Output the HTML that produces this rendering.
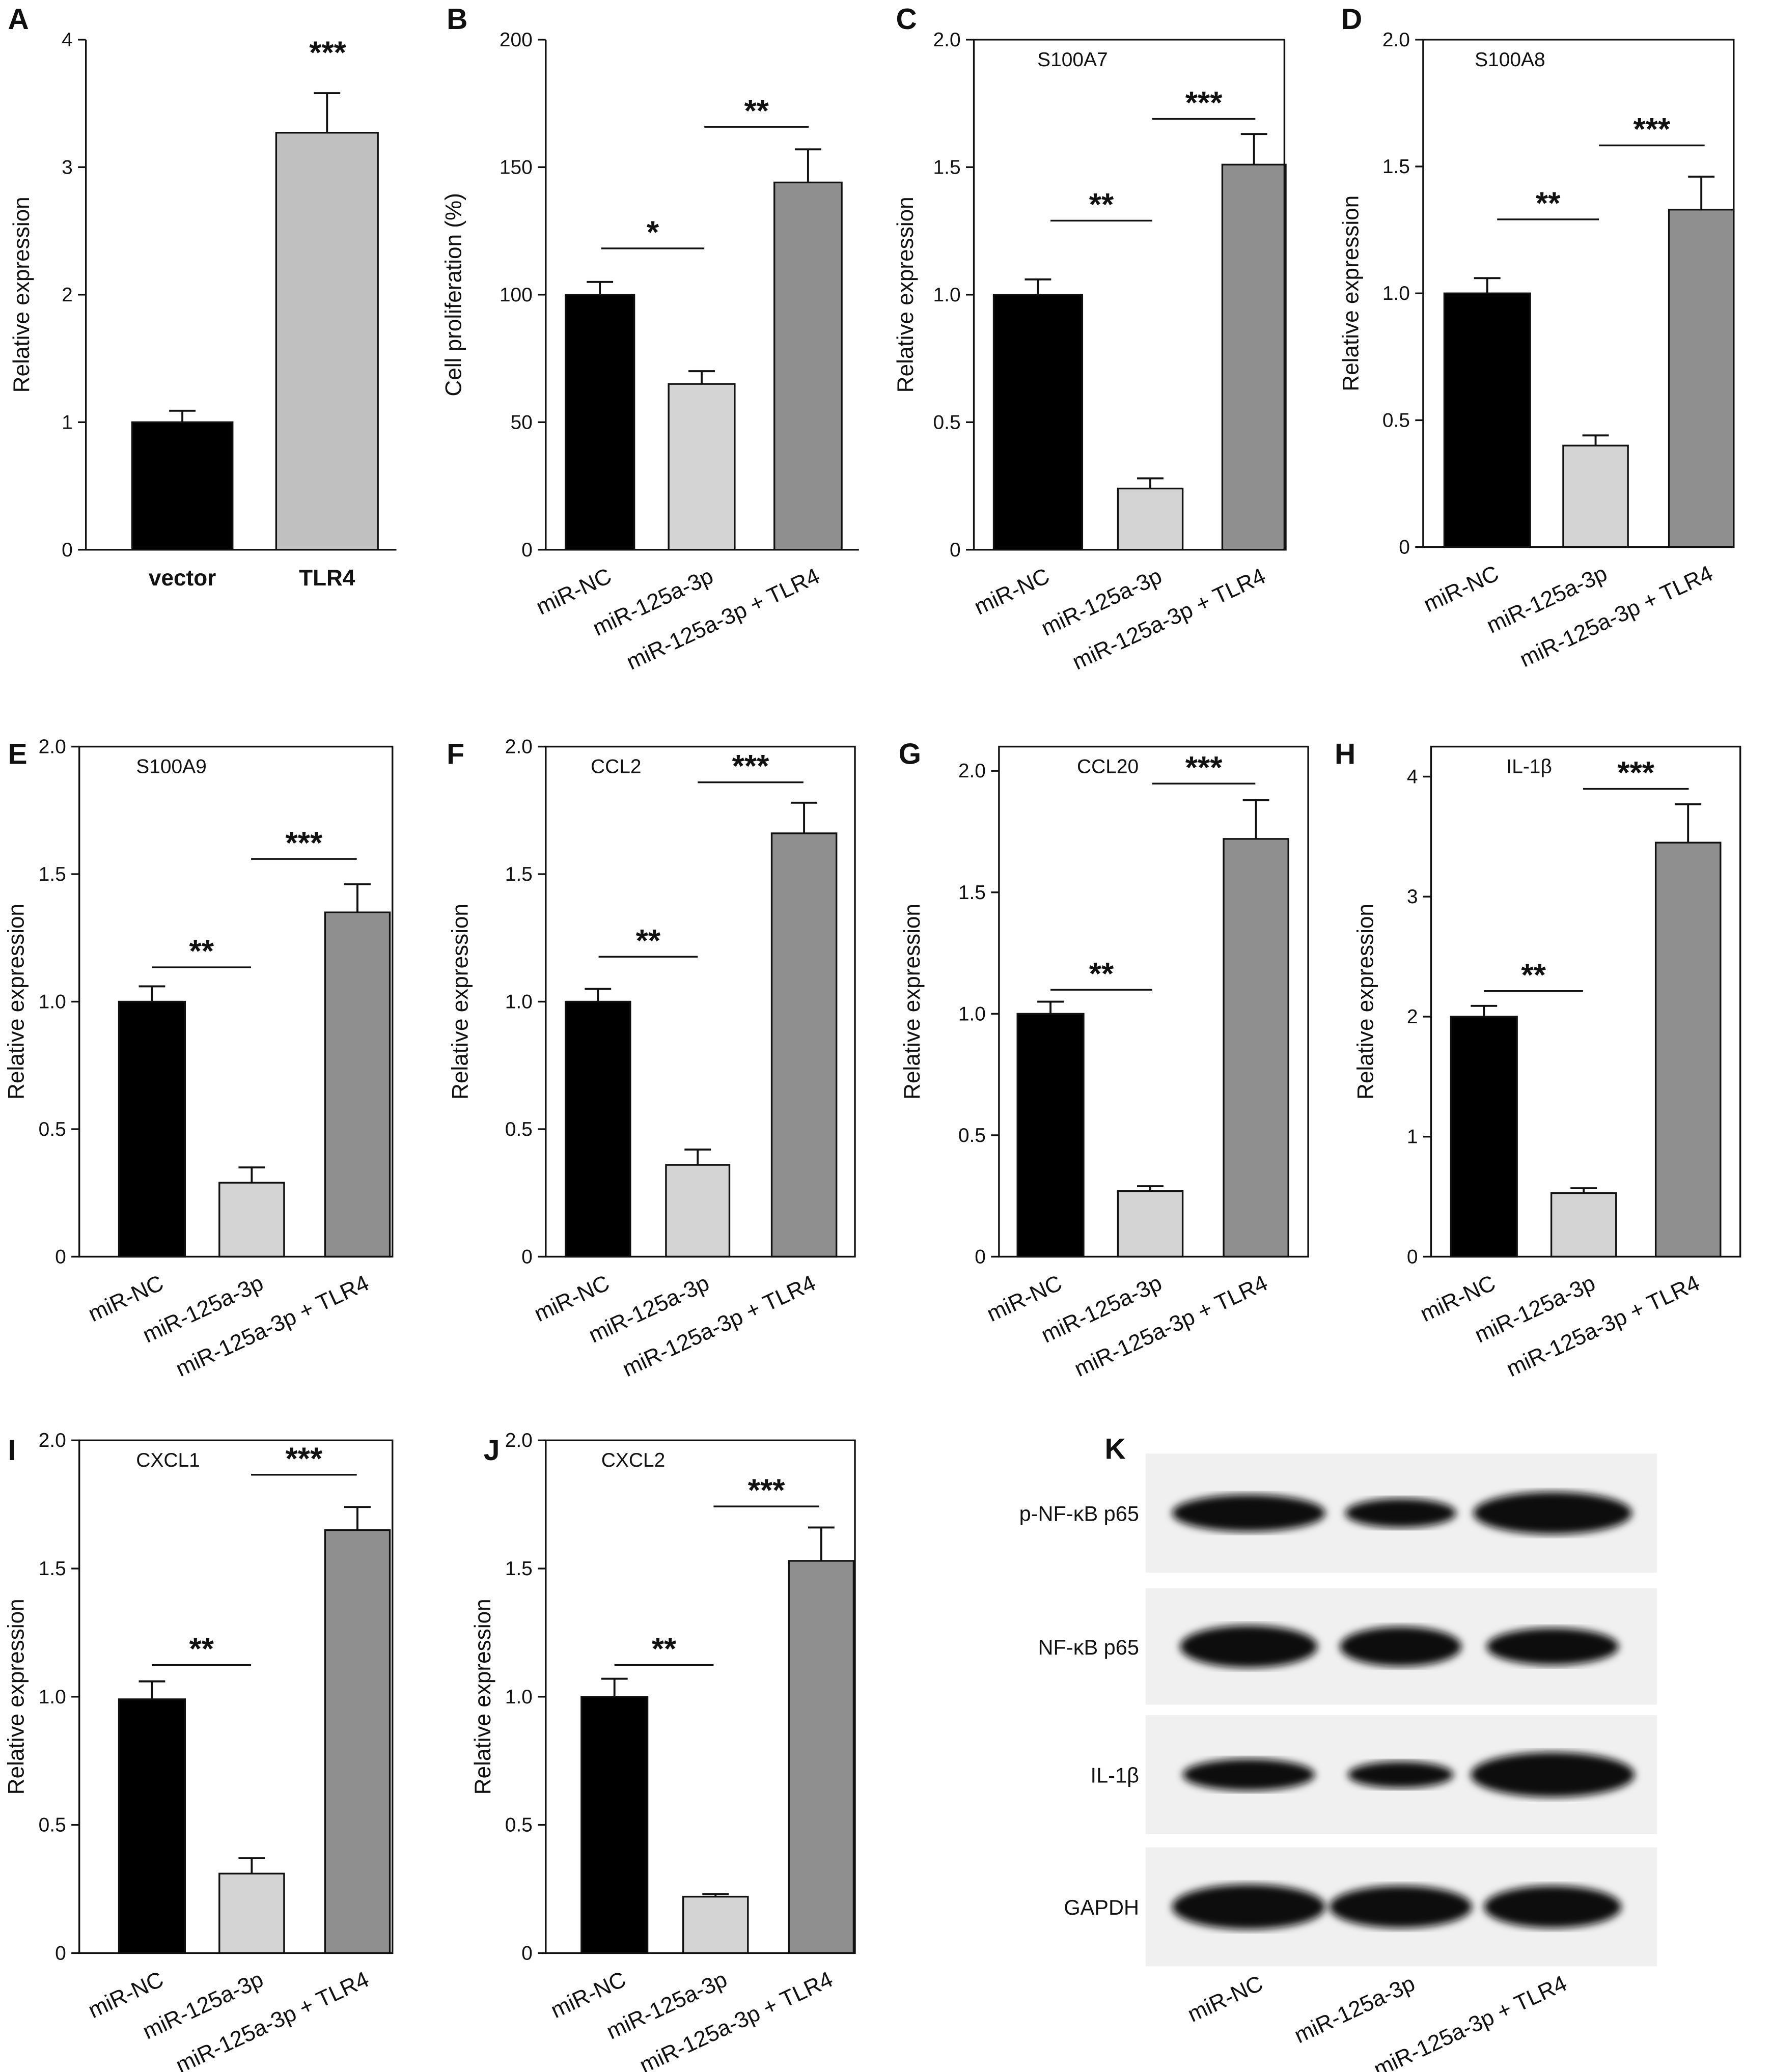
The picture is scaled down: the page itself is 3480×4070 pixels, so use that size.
<!DOCTYPE html>
<html><head><meta charset="utf-8">
<style>
html,body{margin:0;padding:0;background:#fff}
svg{display:block}
text{font-family:"Liberation Sans",sans-serif;fill:#111}
</style></head>
<body>
<svg id="fig" width="3480" height="4070" viewBox="0 0 1341 1568" preserveAspectRatio="none" xmlns="http://www.w3.org/2000/svg"></svg>
<script>
const groups3 = ["miR-NC","miR-125a-3p","miR-125a-3p + TLR4"];
const groupsA = ["vector","TLR4"];
const valsA = [1.0,3.27], errA = [1.09,3.58];
const valsB = [100,65,144], errB = [105,70,157];
const valsC = [1.0,0.24,1.51], errC = [1.06,0.28,1.63];
const valsD = [1.0,0.40,1.33], errD = [1.06,0.44,1.46];
const valsE = [1.0,0.29,1.35], errE = [1.06,0.35,1.46];
const valsF = [1.0,0.36,1.66], errF = [1.05,0.42,1.78];
const valsG = [1.0,0.27,1.72], errG = [1.05,0.29,1.88];
const valsH = [2.0,0.53,3.45], errH = [2.09,0.57,3.77];
const valsI = [0.99,0.31,1.65], errI = [1.06,0.37,1.74];
const valsJ = [1.0,0.22,1.53], errJ = [1.07,0.23,1.66];
const ticks2 = [0,0.5,1.0,1.5,2.0];
const ticksTick2Labels = ["0","0.5","1.0","1.5","2.0"];
const ticks4 = [0,1,2,3,4];
const ticksB = [0,50,100,150,200];

const NS="http://www.w3.org/2000/svg";
const svg=document.getElementById('fig');
function el(tag,attrs,parent){const e=document.createElementNS(NS,tag);for(const k in attrs)e.setAttribute(k,attrs[k]);(parent||svg).appendChild(e);return e;}
function txt(s,attrs,parent){const e=el('text',attrs,parent);e.textContent=s;return e;}

const colors3=["#000","#d4d4d4","#8f8f8f"];
const ANG=-25;

function panel(cfg){
  const g=el('g',{});
  
  
  const y=v=>cfg.y0-(v-cfg.min)/(cfg.max-cfg.min)*(cfg.y0-cfg.yTop);
  const L=txt(cfg.id,{x:cfg.lx,y:cfg.ly,'font-size':22,'font-weight':'bold'},g);
  
  
  cfg.vals.forEach((v,i)=>{
    const [x1,x2]=cfg.bars[i];
    const cx=(x1+x2)/2;
    const b=el('rect',{x:x1,y:y(v),width:x2-x1,height:cfg.y0-y(v),fill:cfg.colors[i],stroke:'#111','stroke-width':1.3},g);
    
    
    const ey=y(cfg.err[i]);
    const eb=el('path',{d:`M${cx} ${y(v)}V${ey}M${cx-10} ${ey}H${cx+10}`,stroke:'#111','stroke-width':1.5,fill:'none'},g);
    
    
  });
  if(cfg.box){
    const r=el('rect',{x:cfg.x0,y:cfg.yTop,width:cfg.xR-cfg.x0,height:cfg.y0-cfg.yTop,fill:'none',stroke:'#111','stroke-width':1.3},g);
    
    
  } else {
    const a=el('path',{d:`M${cfg.x0} ${cfg.yTop}V${cfg.y0}H${cfg.xR}`,stroke:'#111','stroke-width':1.3,fill:'none'},g);
    
    
  }
  cfg.ticks.forEach((t,i)=>{
    const ty=y(t);
    el('line',{x1:cfg.x0-6,x2:cfg.x0,y1:ty,y2:ty,stroke:'#111','stroke-width':1.3},g);
    const tl=txt(cfg.tickLabels[i],{x:cfg.x0-10,y:ty+5,'font-size':15,'text-anchor':'end'},g);
    
    
  });
  const yt=txt(cfg.ytitle,{x:0,y:0,'font-size':17,'text-anchor':'middle',transform:`translate(${cfg.ytx},${(cfg.y0+cfg.yTop)/2}) rotate(-90)`},g);
  
  
  if(cfg.title){const t=txt(cfg.title,{x:cfg.tx,y:cfg.yTop+20,'font-size':15},g);
    
    }
  cfg.groups.forEach((s,i)=>{
    const [x1,x2]=cfg.bars[i];const cx=(x1+x2)/2;
    let t;
    if(cfg.straight){t=txt(s,{x:cx,y:cfg.y0+27,'font-size':17,'font-weight':'bold','text-anchor':'middle'},g);}
    else{t=txt(s,{x:0,y:0,'font-size':17,'text-anchor':'end',transform:`translate(${cx+10},${cfg.y0+24}) rotate(${ANG})`},g);}
    
    
  });
  (cfg.sig||[]).forEach(s=>{
    if(s.line){const l=el('line',{x1:s.x1,x2:s.x2,y1:s.y,y2:s.y,stroke:'#111','stroke-width':1.3},g);
      
      }
    const st=txt(s.s,{x:(s.x1+s.x2)/2,y:s.y-4,'font-size':24,'font-weight':'bold','text-anchor':'middle'},g);
    
    
  });
}

panel({id:'A',lx:6,ly:22,x0:65,xR:300,yTop:30,y0:416,min:0,max:4,ticks:ticks4,tickLabels:["0","1","2","3","4"],
 vals:valsA,err:errA,groups:groupsA,bars:[[100,176],[209,286]],colors:["#000","#c0c0c0"],ytitle:'Relative expression',ytx:22,straight:true,
 sig:[{x1:210,x2:286,y:52,s:'***'}]});
panel({id:'B',lx:338,ly:22,x0:413,xR:650,yTop:30,y0:416,min:0,max:200,ticks:ticksB,tickLabels:["0","50","100","150","200"],
 vals:valsB,err:errB,groups:groups3,bars:[[428,480],[506,556],[586,637]],colors:colors3,ytitle:'Cell proliferation (%)',ytx:349,
 sig:[{x1:455,x2:533,y:188,s:'*',line:1},{x1:533,x2:612,y:96,s:'**',line:1}]});
panel({id:'C',lx:678,ly:22,x0:737,xR:972,yTop:30,y0:416,min:0,max:2,ticks:ticks2,tickLabels:ticksTick2Labels,box:1,title:'S100A7',tx:785,
 vals:valsC,err:errC,groups:groups3,bars:[[752,819],[846,895],[925,973]],colors:colors3,ytitle:'Relative expression',ytx:691,
 sig:[{x1:795,x2:872,y:167,s:'**',line:1},{x1:872,x2:950,y:90,s:'***',line:1}]});
panel({id:'D',lx:1015,ly:22,x0:1077,xR:1312,yTop:30,y0:414,min:0,max:2,ticks:ticks2,tickLabels:ticksTick2Labels,box:1,title:'S100A8',tx:1116,
 vals:valsD,err:errD,groups:groups3,bars:[[1093,1158],[1183,1232],[1263,1312]],colors:colors3,ytitle:'Relative expression',ytx:1028,
 sig:[{x1:1133,x2:1210,y:166,s:'**',line:1},{x1:1210,x2:1290,y:110,s:'***',line:1}]});
panel({id:'E',lx:6,ly:578,x0:60,xR:297,yTop:565,y0:951,min:0,max:2,ticks:ticks2,tickLabels:ticksTick2Labels,box:1,title:'S100A9',tx:103,
 vals:valsE,err:errE,groups:groups3,bars:[[90,140],[166,215],[246,295]],colors:colors3,ytitle:'Relative expression',ytx:18,
 sig:[{x1:115,x2:190,y:732,s:'**',line:1},{x1:190,x2:270,y:650,s:'***',line:1}]});
panel({id:'F',lx:338,ly:578,x0:413,xR:647,yTop:565,y0:951,min:0,max:2,ticks:ticks2,tickLabels:ticksTick2Labels,box:1,title:'CCL2',tx:447,
 vals:valsF,err:errF,groups:groups3,bars:[[428,477],[504,552],[584,633]],colors:colors3,ytitle:'Relative expression',ytx:354,
 sig:[{x1:453,x2:528,y:724,s:'**',line:1},{x1:528,x2:608,y:592,s:'***',line:1}]});
panel({id:'G',lx:680,ly:578,x0:756,xR:990,yTop:565,y0:951,min:0,max:2.1,ticks:ticks2,tickLabels:ticksTick2Labels,box:1,title:'CCL20',tx:815,
 vals:valsG,err:errG,groups:groups3,bars:[[770,820],[846,895],[926,975]],colors:colors3,ytitle:'Relative expression',ytx:696,
 sig:[{x1:795,x2:872,y:749,s:'**',line:1},{x1:872,x2:950,y:593,s:'***',line:1}]});
panel({id:'H',lx:1010,ly:578,x0:1083,xR:1317,yTop:565,y0:951,min:0,max:4.25,ticks:ticks4,tickLabels:["0","1","2","3","4"],box:1,title:'IL-1β',tx:1140,
 vals:valsH,err:errH,groups:groups3,bars:[[1098,1148],[1174,1223],[1253,1302]],colors:colors3,ytitle:'Relative expression',ytx:1039,
 sig:[{x1:1123,x2:1198,y:750,s:'**',line:1},{x1:1198,x2:1278,y:597,s:'***',line:1}]});
panel({id:'I',lx:6,ly:1105,x0:60,xR:297,yTop:1090,y0:1478,min:0,max:2,ticks:ticks2,tickLabels:ticksTick2Labels,box:1,title:'CXCL1',tx:103,
 vals:valsI,err:errI,groups:groups3,bars:[[90,140],[166,215],[246,295]],colors:colors3,ytitle:'Relative expression',ytx:18,
 sig:[{x1:115,x2:190,y:1260,s:'**',line:1},{x1:190,x2:270,y:1116,s:'***',line:1}]});
panel({id:'J',lx:366,ly:1105,x0:413,xR:647,yTop:1090,y0:1478,min:0,max:2,ticks:ticks2,tickLabels:ticksTick2Labels,box:1,title:'CXCL2',tx:455,
 vals:valsJ,err:errJ,groups:groups3,bars:[[440,490],[517,566],[597,646]],colors:colors3,ytitle:'Relative expression',ytx:371,
 sig:[{x1:465,x2:540,y:1260,s:'**',line:1},{x1:540,x2:620,y:1140,s:'***',line:1}]});

const blotLabels=["p-NF-κB p65","NF-κB p65","IL-1β","GAPDH"];
const blotRows=[[1100,1190],[1202,1290],[1298,1388],[1398,1488]];
const bandW=[[58,14],[42,11],[60,16],[52,16],[46,15],[50,14],[50,12],[40,10],[62,17],[58,17],[54,16],[52,16]];
const laneX=[945,1060,1175];
const kg=el('g',{});


const kl=txt('K',{x:836,y:1104,'font-size':22,'font-weight':'bold'},kg);


const defs=el('defs',{},kg);
const f=el('filter',{id:'blur'},defs);el('feGaussianBlur',{stdDeviation:3},f);
blotRows.forEach((r,i)=>{
  const s=el('rect',{x:867,y:r[0],width:387,height:r[1]-r[0],fill:'#f0f0f0'},kg);
  
  
  const cy=(r[0]+r[1])/2;
  laneX.forEach((x,j)=>{
    const [rx,ry]=bandW[i*3+j];
    const b=el('ellipse',{cx:x,cy:cy,rx:rx,ry:ry,fill:'#111',filter:'url(#blur)'},kg);
    
    
  });
  const t=txt(blotLabels[i],{x:862,y:cy+6,'font-size':16,'text-anchor':'end'},kg);
  
  
});
groups3.forEach((s,j)=>{
  const t=txt(s,{x:0,y:0,'font-size':17,'text-anchor':'end',transform:`translate(${laneX[j]+12},${1505}) rotate(${ANG})`},kg);
  
  
});
</script>
</body></html>
